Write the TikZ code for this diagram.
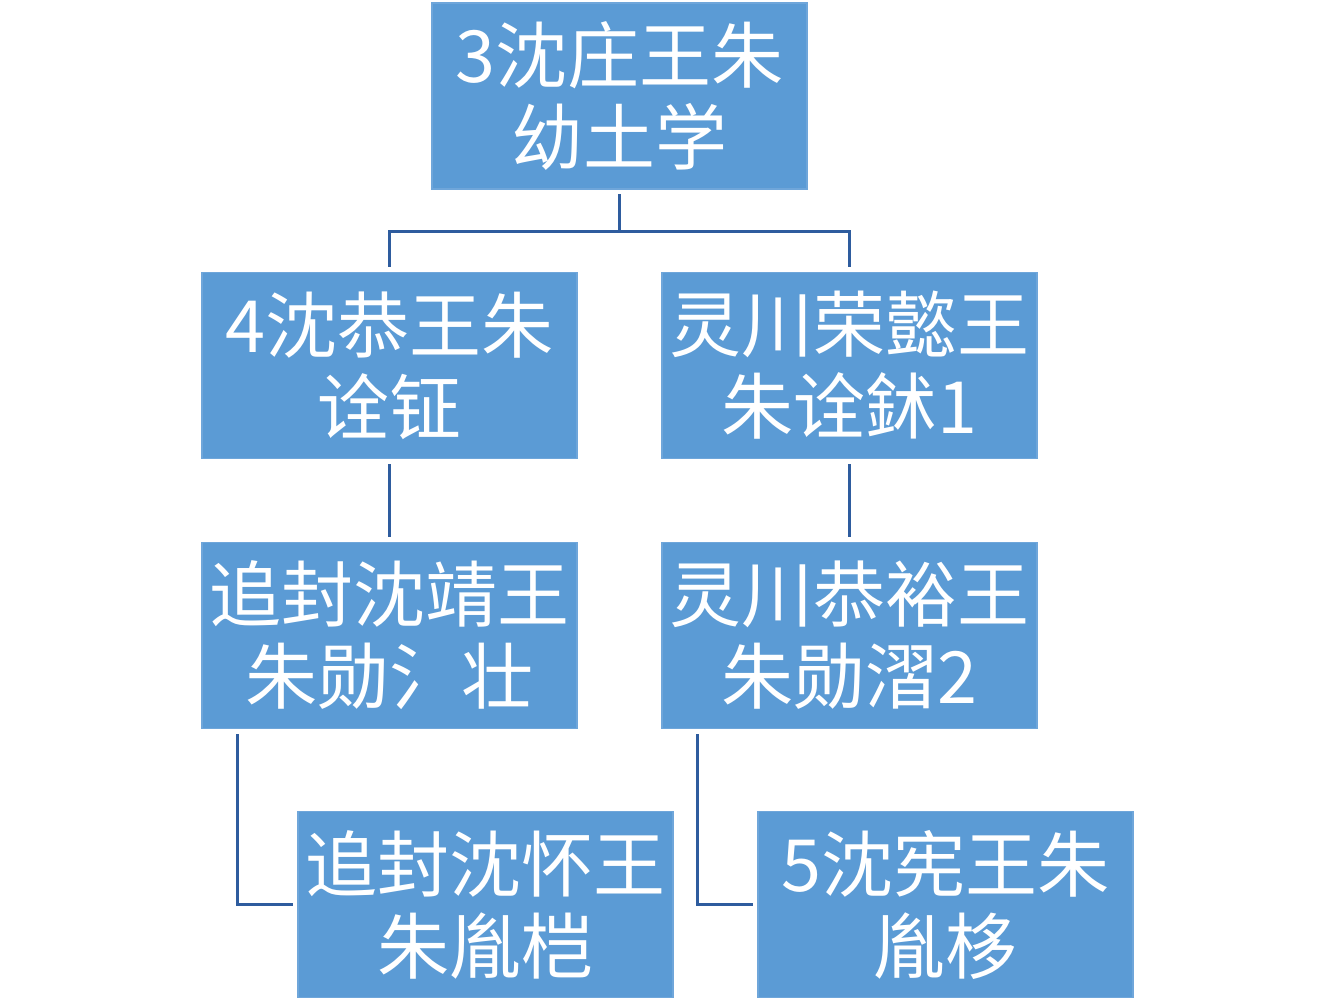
\documentclass[tikz,border=0pt]{standalone}
\usepackage{fontspec}
\newfontfamily\cjk{Noto Sans CJK SC}
\definecolor{boxblue}{HTML}{5B9BD5}
\definecolor{boxedge}{HTML}{6FA6DA}
\definecolor{linkblue}{HTML}{2E5C9E}
\begin{document}
\begin{tikzpicture}[x=0.5pt,y=-0.5pt,
  person/.style={rectangle, fill=boxblue, draw=boxedge, line width=0.6pt,
    minimum width=187.5pt, minimum height=93pt, inner sep=0pt,
    text=white, align=center, font=\cjk\fontsize{36}{41}\selectfont},
  link/.style={draw=linkblue, line width=1.5pt, line cap=rect}]
\useasboundingbox[fill=white] (0,0) rectangle (1334,1000);
% boxes
\node[person] (top) at (619.5,96) {3沈庄王朱\\幼土学};
\node[person] (l2) at (389.5,365.5) {4沈恭王朱\\诠钲};
\node[person] (r2) at (849.5,365.5) {灵川荣懿王\\朱诠鉥1};
\node[person] (l3) at (389.5,635.5) {追封沈靖王\\朱勋氵壮};
\node[person] (r3) at (849.5,635.5) {灵川恭裕王\\朱勋漝2};
\node[person] (l4) at (485.5,904.5) {追封沈怀王\\朱胤桤};
\node[person] (r4) at (945.5,904.5) {5沈宪王朱\\胤栘};
% junction coordinates
\coordinate (j) at (619.5,232);
% connectors
\draw[link] ([yshift=-3pt]top.south) -- (j);
\draw[link] ([yshift=3pt]l2.north) |- (j) -| ([yshift=3pt]r2.north);
\draw[link] ([yshift=-3pt]l2.south) -- ([yshift=3pt]l3.north);
\draw[link] ([yshift=-3pt]r2.south) -- ([yshift=3pt]r3.north);
\draw[link] ([xshift=-76pt,yshift=-3pt]l3.south) |- ([xshift=-3pt]l4.west);
\draw[link] ([xshift=-76pt,yshift=-3pt]r3.south) |- ([xshift=-3pt]r4.west);
\end{tikzpicture}
\end{document}
